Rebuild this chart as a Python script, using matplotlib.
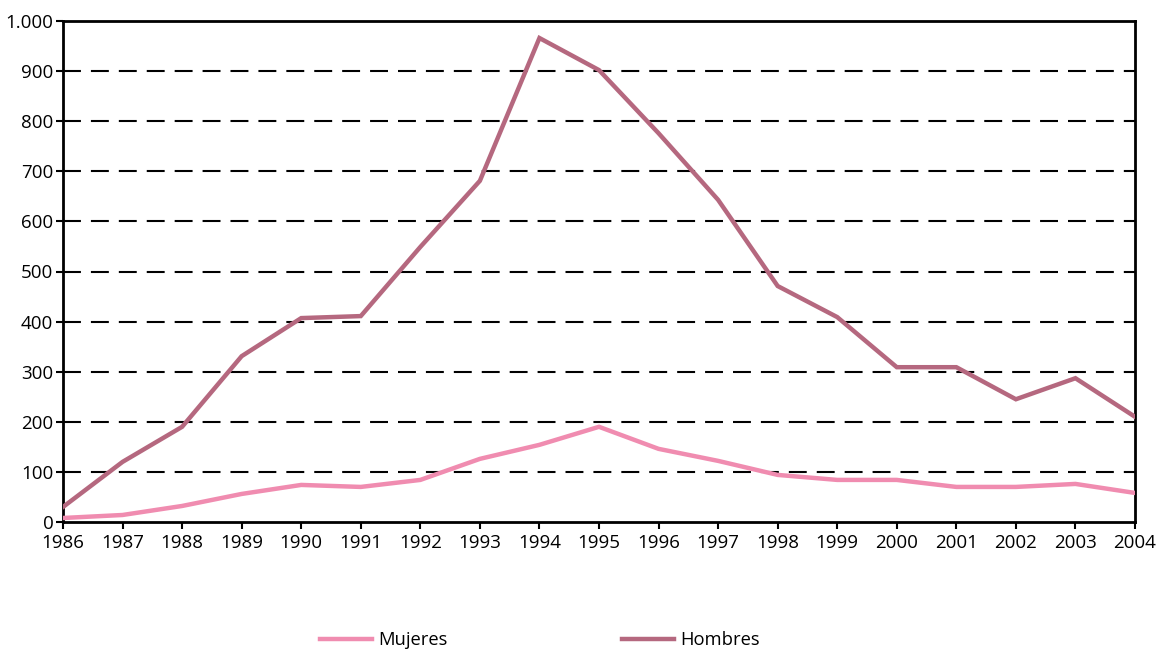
import matplotlib
matplotlib.use("Agg")
import matplotlib.pyplot as plt
from matplotlib.ticker import FuncFormatter

years = list(range(1986, 2005))
mujeres = [8, 14, 32, 56, 74, 70, 84, 126, 154, 190, 146, 122, 94, 84, 84, 70, 70, 76, 58]
hombres = [30, 120, 190, 331, 407, 411, 549, 681, 966, 902, 776, 643, 471, 409, 309, 309, 245, 287, 210]
yticks = list(range(0, 1001, 100))

plt.rcParams['font.family'] = ['Open Sans', 'DejaVu Sans']

fig = plt.figure(figsize=(11.6, 6.5), dpi=100)
ax = fig.add_axes([63/1160, 1 - 522/650, (1135-63)/1160, (522-21)/650])

l1, = ax.plot(years, mujeres, color='#F08CB0', lw=3.2, solid_joinstyle='miter', label='Mujeres', zorder=3)
l2, = ax.plot(years, hombres, color='#B5687F', lw=3.2, solid_joinstyle='miter', label='Hombres', zorder=3)

ax.set_xlim(years[0], years[-1])
ax.set_ylim(0, 1000)
ax.set_xticks(years)
ax.set_yticks(yticks)
ax.yaxis.set_major_formatter(FuncFormatter(lambda v, p: f"{int(v):,}".replace(',', '.')))
for y in yticks[1:-1]:
    ax.axhline(y, color='black', lw=1.5, dashes=(8.6, 4.8), zorder=1)

for s in ax.spines.values():
    s.set_linewidth(2)
    s.set_color('black')
ax.tick_params(axis='both', direction='out', length=5, width=1.5, labelsize=13.5, colors='black', pad=2)
ax.tick_params(axis='x', pad=4)

fig.legend(handles=[l1, l2], loc='center', bbox_to_anchor=(540/1160, 1 - 640/650), ncol=2,
           frameon=False, fontsize=13.2, handlelength=2.85, handletextpad=0.33, columnspacing=9.5)

fig.savefig('out.png', dpi=100)
